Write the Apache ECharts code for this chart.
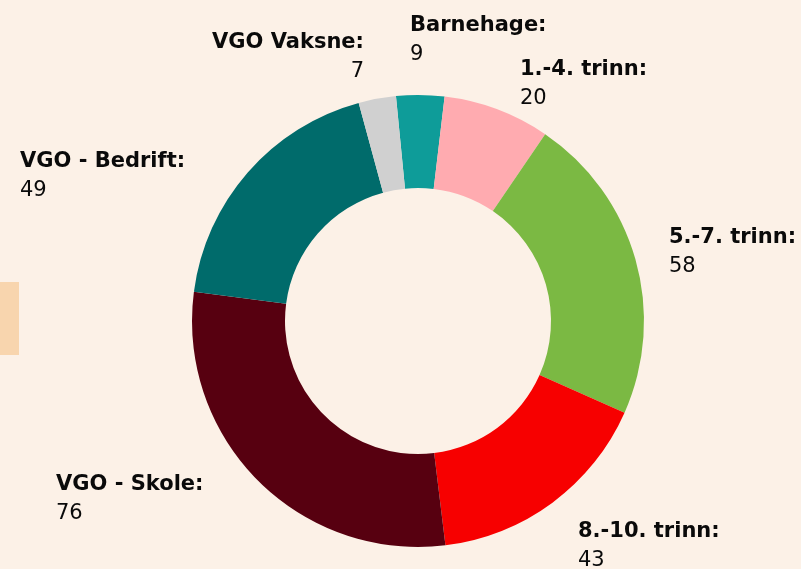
<!DOCTYPE html>
<html>
<head>
<meta charset="utf-8">
<script src="https://cdn.jsdelivr.net/npm/echarts@6/dist/echarts.min.js"></script>
<style>
html,body{margin:0;padding:0;background:#fcf1e7;}
#chart{width:801px;height:569px;}
</style>
</head>
<body>
<div id="chart"></div>
<script>
const categories = ['Barnehage', '1.-4. trinn', '5.-7. trinn', '8.-10. trinn', 'VGO - Skole', 'VGO - Bedrift', 'VGO Vaksne'];
const values = [9, 20, 58, 43, 76, 49, 7];
const colors = ['#0e9c99', '#ffabb0', '#7bb943', '#f70000', '#570010', '#006b6b', '#d0d0d0'];

// label anchors (layout only): x, top y, alignment
const labelAnchors = [
  [410, 11, 'left'],
  [520, 55, 'left'],
  [669, 223, 'left'],
  [578, 517, 'left'],
  [56, 470, 'left'],
  [20, 147, 'left'],
  [364, 28, 'right']
];

const FONT = '"DejaVu Sans", sans-serif';
const chart = echarts.init(document.getElementById('chart'), null, {renderer: 'canvas'});
chart.setOption({
  backgroundColor: '#fcf1e7',
  animation: false,
  graphic: [{
    type: 'rect', left: 0, top: 282, shape: {width: 19, height: 73},
    style: {fill: '#f8d5ae'}, silent: true
  }],
  series: [{
    type: 'pie',
    center: [418, 321],
    radius: [133, 226],
    startAngle: 95.6,
    clockwise: true,
    avoidLabelOverlap: false,
    data: categories.map((c, i) => ({name: c, value: values[i], itemStyle: {color: colors[i]}})),
    itemStyle: {borderWidth: 0},
    label: {
      show: true,
      position: 'outside',
      distanceToLabelLine: 0,
      formatter: '{n|{b}:}\n{v|{c}}',
      rich: {
        n: {fontFamily: FONT, fontWeight: 'bold', fontSize: 21, lineHeight: 29, color: '#0a0a0a'},
        v: {fontFamily: FONT, fontWeight: 'normal', fontSize: 21, lineHeight: 29, color: '#0a0a0a'}
      }
    },
    labelLine: {show: false, length: 45, length2: 0},
    labelLayout: function (p) {
      const a = labelAnchors[p.dataIndex];
      return {x: a[0], y: a[1], align: a[2], verticalAlign: 'top', hideOverlap: false, moveOverlap: null};
    },
    emphasis: {disabled: true}
  }]
});
</script>
</body>
</html>
